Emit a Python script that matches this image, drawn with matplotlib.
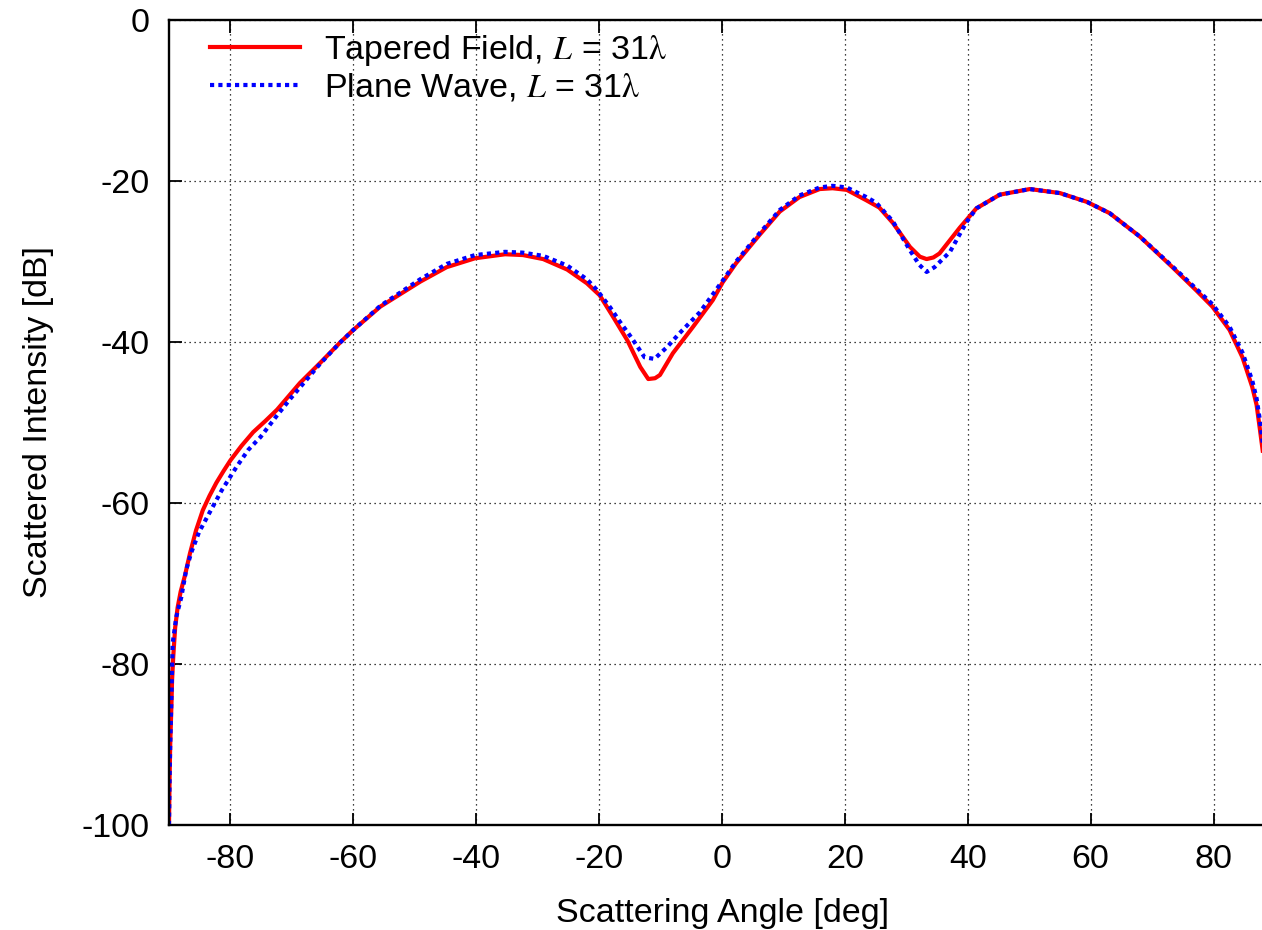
import numpy as np
import matplotlib
matplotlib.use("Agg")
import matplotlib.pyplot as plt

plt.rcParams['font.family'] = ['Liberation Sans', 'DejaVu Sans']
plt.rcParams['mathtext.fontset'] = 'stix'
plt.rcParams['axes.unicode_minus'] = False

# Tapered field, L = 31 lambda
tapered_angle = [-90, -89.9, -89.8, -89.6, -89.5, -89.3, -89.0, -88.6, -88.1, -87.4,
                 -86.6, -85.6, -84.5, -83.4, -82.3, -81.1,
                 -80.0, -78.2, -76.3, -74.3, -72.4, -68.7, -65.4, -62.2, -60.0, -55.6, -49.1, -44.8,
                 -40.2, -35.3, -32.4, -29.1, -25.2, -22.0, -19.9, -17.7, -15.4, -13.3,
                 -12.0, -10.9, -10.1, -8.0, -4.7, -1.5, 0.1, 2.3, 6.1, 9.4,
                 12.6, 15.9, 18.0, 20.3, 23.5, 25.6, 27.8, 30.6, 32.2, 33.3, 34.4, 35.4,
                 38.7, 41.4, 45.2, 50.1, 55.0, 59.4, 63.1, 68.0, 73.3, 77.2,
                 79.8, 82.6, 84.7, 86.3, 87.0, 87.5, 88.0]
tapered_db = [-100, -94, -90, -85, -82, -79, -75.5, -73.0, -71.0, -69.0,
              -66.3, -63.4, -60.9, -59.1, -57.5, -56.0,
              -54.7, -52.9, -51.2, -49.8, -48.4, -45.1, -42.6, -40.1, -38.5, -35.6, -32.5, -30.7,
              -29.6, -29.1, -29.2, -29.7, -31.0, -32.7, -34.2, -36.9, -39.8, -43.1,
              -44.6, -44.5, -44.1, -41.4, -38.1, -34.8, -32.6, -30.2, -26.7, -23.8,
              -22.0, -21.0, -20.9, -21.1, -22.4, -23.3, -25.2, -28.2, -29.4, -29.7, -29.5, -29.0,
              -25.8, -23.4, -21.7, -21.0, -21.5, -22.6, -24.0, -26.9, -30.7, -33.6,
              -35.6, -38.5, -41.9, -45.6, -47.8, -50.6, -53.5]

# Plane wave, L = 31 lambda
plane_angle = [-90, -89.9, -89.8, -89.6, -89.4, -88.8, -88.0, -87.2, -86.4, -85.1, -83.4, -81.4,
               -79.0, -77.1, -75.1, -72.6, -70.2, -65.4, -62.2, -60.0, -55.6, -49.1, -44.8, -40.2,
               -35.3, -32.4, -29.1, -25.2, -22.0, -20.4, -18.2, -16.6, -14.7, -12.6,
               -11.0, -8.9, -6.9, -3.6, 0.0, 2.3, 6.1, 9.4, 12.6, 15.9,
               18.0, 20.3, 23.5, 25.1, 27.8, 30.5, 32.1, 33.3, 34.6, 37.1,
               39.8, 41.4, 45.2, 50.1, 55.0, 59.4, 63.1, 68.0, 73.3, 77.2,
               79.8, 82.6, 84.7, 86.3, 87.0, 87.5, 88.0]
plane_db = [-100, -94, -90, -84, -77.4, -74.1, -71.7, -68.3, -66.2, -63.6, -61.2, -58.4,
            -55.5, -53.4, -51.8, -49.3, -47.0, -42.7, -40.1, -38.5, -35.5, -32.2, -30.3, -29.2,
            -28.8, -28.9, -29.3, -30.5, -32.2, -33.5, -35.7, -37.5, -39.5, -41.9,
            -42.1, -40.6, -38.9, -36.3, -32.5, -30.0, -26.5, -23.6, -21.8, -20.8,
            -20.6, -20.8, -22.0, -22.7, -25.0, -28.5, -30.4, -31.3, -30.7, -28.8,
            -25.1, -23.4, -21.7, -21.0, -21.5, -22.6, -24.0, -26.9, -30.6, -33.4,
            -35.3, -38.1, -41.3, -44.8, -47.0, -49.5, -52.5]

fig = plt.figure(figsize=(12.62, 9.30), dpi=100)
ax = fig.add_axes([169 / 1262, 1 - 825 / 930, (1275 - 169) / 1262, (825 - 20) / 930])

ax.plot(tapered_angle, tapered_db, color='#ff0000', lw=3,
        label=r'Tapered Field, $L$ = 31$\mathrm{\lambda}$')
ax.plot(plane_angle, plane_db, color='#0000ff', lw=3, dashes=(1, 1),
        label=r'Plane Wave, $L$ = 31$\mathrm{\lambda}$')

ax.set_xlim(-90, 90)
ax.set_ylim(-100, 0)
ax.set_xticks(np.arange(-80, 81, 20))
ax.set_yticks(np.arange(-100, 1, 20))
ax.grid(True, color='black', linestyle=(0, (1, 3)), linewidth=0.9)
ax.tick_params(direction='in', length=9, width=1.3, labelsize=24.5, pad=14,
               top=True, right=True)
for s in ax.spines.values():
    s.set_linewidth(1.7)

ax.set_xlabel('Scattering Angle [deg]', fontsize=24.5, labelpad=16)
ax.set_ylabel('Scattered Intensity [dB]', fontsize=24.5, labelpad=20)

ax.legend(loc='upper left', bbox_to_anchor=(0.02, 1.007), frameon=False, fontsize=24.5,
          handlelength=2.65, handletextpad=0.7, labelspacing=0.1, borderaxespad=0.15)

fig.savefig('out.png', dpi=100)
